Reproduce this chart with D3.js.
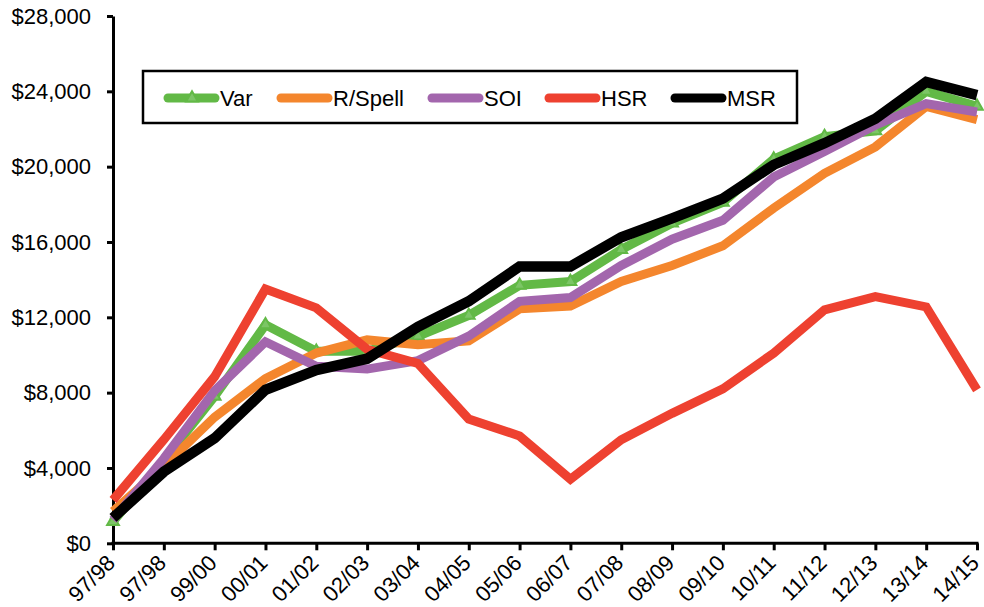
<!DOCTYPE html>
<html>
<head>
<meta charset="utf-8">
<script src="https://cdn.jsdelivr.net/npm/d3@7"></script>
<style>
  html, body { margin: 0; padding: 0; background: #fff; }
  svg text { font-family: "Liberation Sans", Arial, sans-serif; fill: #000; }
</style>
</head>
<body>
<svg id="chart" width="984" height="607"></svg>
<script>
// Season labels along the x axis
const seasons = ["97/98","97/98","99/00","00/01","01/02","02/03","03/04","04/05","05/06","06/07",
                 "07/08","08/09","09/10","10/11","11/12","12/13","13/14","14/15"];

// Series values (dollars)
const varValues    = [1150, 4400, 7800, 11600, 10200, 10200, 11000, 12100, 13700, 13900, 15600, 17000, 18100, 20400, 21600, 21900, 24000, 23200];
const rSpellValues = [1700, 4100, 6700, 8750, 10100, 10800, 10550, 10750, 12450, 12600, 13900, 14750, 15800, 17800, 19650, 21050, 23200, 22500];
const soiValues    = [1250, 4500, 8100, 10700, 9400, 9250, 9700, 11000, 12850, 13050, 14750, 16150, 17150, 19450, 20800, 22200, 23350, 22900];
const hsrValues    = [2300, 5500, 8850, 13500, 12500, 10300, 9550, 6600, 5700, 3400, 5500, 6900, 8200, 10100, 12400, 13100, 12550, 8150];
const msrValues    = [1350, 3800, 5580, 8150, 9200, 9800, 11500, 12850, 14700, 14700, 16250, 17250, 18300, 20100, 21250, 22550, 24500, 23800];

const yTicks = [0, 4000, 8000, 12000, 16000, 20000, 24000, 28000];

const series = [
  { name: "Var",     values: varValues,    color: "#62b946", width: 9,  markers: true },
  { name: "R/Spell", values: rSpellValues, color: "#f4862d", width: 9 },
  { name: "SOI",     values: soiValues,    color: "#a366ad", width: 9 },
  { name: "HSR",     values: hsrValues,    color: "#ee4130", width: 9 },
  { name: "MSR",     values: msrValues,    color: "#000000", width: 10.5 }
];

const svg = d3.select("#chart");
const plotLeft = 113, plotRight = 977, plotTop = 16, plotBottom = 543.3;

const x = d3.scalePoint().domain(d3.range(seasons.length)).range([plotLeft, plotRight]);
const y = d3.scaleLinear().domain([0, 28000]).range([plotBottom, plotTop]);

// Y axis
const yAxis = svg.append("g")
  .attr("transform", `translate(${plotLeft},0)`)
  .call(d3.axisLeft(y).tickValues(yTicks).tickSize(6).tickSizeOuter(0).tickPadding(16)
        .tickFormat(d => "$" + d3.format(",")(d)));
yAxis.selectAll("text").style("font-size", "22px");
yAxis.select(".domain").attr("stroke-width", 3);
yAxis.selectAll(".tick line").attr("stroke-width", 3);

// X axis
const xAxis = svg.append("g")
  .attr("transform", `translate(0,${plotBottom})`)
  .call(d3.axisBottom(x).tickSize(7).tickSizeOuter(0).tickFormat(i => seasons[i]));
xAxis.select(".domain").attr("stroke-width", 3).attr("d", `M${plotLeft - 1.5},0H${plotRight + 1.5}`);
xAxis.selectAll(".tick line").attr("stroke-width", 3);
xAxis.selectAll(".tick text")
  .style("font-size", "22px")
  .attr("text-anchor", "end")
  .attr("dy", null)
  .attr("y", null)
  .attr("transform", "translate(3,21) rotate(-45)");

// Lines
const line = d3.line().x((d, i) => x(i)).y(d => y(d));
series.forEach(s => {
  svg.append("path")
    .datum(s.values)
    .attr("fill", "none")
    .attr("stroke", s.color)
    .attr("stroke-width", s.width)
    .attr("stroke-linejoin", "miter")
    .attr("d", line);
  if (s.markers) {
    svg.append("g").selectAll("path")
      .data(s.values)
      .join("path")
      .attr("d", d3.symbol(d3.symbolTriangle, 60))
      .attr("transform", (d, i) => `translate(${x(i)},${y(d)})`)
      .attr("fill", "#7cc566")
      .attr("stroke", "#62b946")
      .attr("stroke-width", 2);
  }
});

// Legend
const legend = svg.append("g");
legend.append("rect")
  .attr("x", 143).attr("y", 71).attr("width", 654).attr("height", 52)
  .attr("fill", "#fff").attr("stroke", "#000").attr("stroke-width", 2.5);
const legendX = [168, 281, 432, 549, 675];
series.forEach((s, k) => {
  const lx = legendX[k];
  legend.append("line")
    .attr("x1", lx).attr("x2", lx + 47).attr("y1", 98).attr("y2", 98)
    .attr("stroke", s.color).attr("stroke-width", 9).attr("stroke-linecap", "round");
  if (s.markers) {
    legend.append("path")
      .attr("d", d3.symbol(d3.symbolTriangle, 60))
      .attr("transform", `translate(${lx + 24},98)`)
      .attr("fill", "#7cc566").attr("stroke", "#62b946").attr("stroke-width", 2);
  }
  legend.append("text")
    .attr("x", lx + 52).attr("y", 106)
    .style("font-size", "22px")
    .text(s.name);
});
</script>
</body>
</html>
